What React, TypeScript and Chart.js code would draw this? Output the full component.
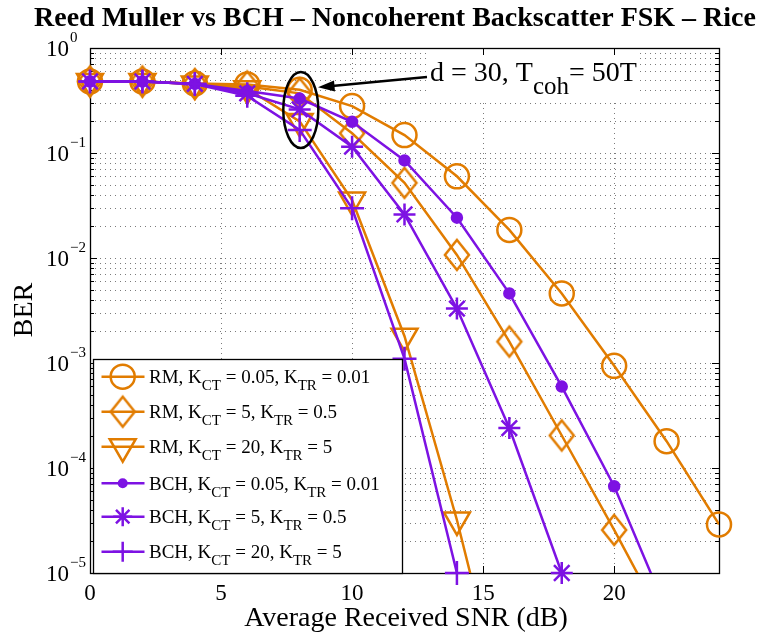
import React, { useEffect, useRef } from 'react';
import { Chart, registerables } from 'chart.js';
Chart.register(...registerables);

const FONT = "'Liberation Serif', 'Times New Roman', serif";
const ORANGE = '#E17C00';
const PURPLE = '#7D12E3';

const snr = [0, 2, 4, 6, 8, 10, 12, 14, 16, 18, 20, 22, 24];
const rmCircle = [0.48, 0.48, 0.46, 0.45, 0.40, 0.28, 0.148, 0.06, 0.0185, 0.0046, 0.00094, 0.00018, 0.000029];
const rmDiamond = [0.48, 0.48, 0.455, 0.43, 0.37, 0.154, 0.052, 0.0107, 0.0016, 0.000204, 0.0000257, 0.000003];
const rmTriangle = [0.48, 0.48, 0.455, 0.41, 0.20, 0.0356, 0.0018, 0.000032, 0.00000032];
const bchDot = [0.48, 0.48, 0.455, 0.39, 0.33, 0.198, 0.085, 0.0242, 0.0046, 0.000596, 0.000067, 0.0000044];
const bchStar = [0.48, 0.48, 0.455, 0.37, 0.26, 0.115, 0.026, 0.0033, 0.00024, 0.00001];
const bchPlus = [0.48, 0.48, 0.455, 0.35, 0.166, 0.0297, 0.0011, 0.00001];

const xTicks = [0, 5, 10, 15, 20];
const yExps = [0, -1, -2, -3, -4, -5];
const Y_MIN = 1e-5;
const Y_MAX = 1;

type Kind = 'circle' | 'diamond' | 'triDown' | 'dot' | 'star' | 'plus';
type Part = [string, number];

const seriesDefs: { name: Part[]; data: number[]; color: string; kind: Kind }[] = [
  { name: [['RM, K', 0], ['CT', 1], [' = 0.05, K', 0], ['TR', 1], [' = 0.01', 0]], data: rmCircle, color: ORANGE, kind: 'circle' },
  { name: [['RM, K', 0], ['CT', 1], [' = 5, K', 0], ['TR', 1], [' = 0.5', 0]], data: rmDiamond, color: ORANGE, kind: 'diamond' },
  { name: [['RM, K', 0], ['CT', 1], [' = 20, K', 0], ['TR', 1], [' = 5', 0]], data: rmTriangle, color: ORANGE, kind: 'triDown' },
  { name: [['BCH, K', 0], ['CT', 1], [' = 0.05, K', 0], ['TR', 1], [' = 0.01', 0]], data: bchDot, color: PURPLE, kind: 'dot' },
  { name: [['BCH, K', 0], ['CT', 1], [' = 5, K', 0], ['TR', 1], [' = 0.5', 0]], data: bchStar, color: PURPLE, kind: 'star' },
  { name: [['BCH, K', 0], ['CT', 1], [' = 20, K', 0], ['TR', 1], [' = 5', 0]], data: bchPlus, color: PURPLE, kind: 'plus' },
];

const LW = 2.5;

function diamondImage(color: string): HTMLCanvasElement {
  const c = document.createElement('canvas');
  c.width = 30; c.height = 36;
  const g = c.getContext('2d')!;
  g.strokeStyle = color; g.lineWidth = LW; g.lineJoin = 'miter';
  g.beginPath();
  g.moveTo(15, 3); g.lineTo(27, 18); g.lineTo(15, 33); g.lineTo(3, 18); g.closePath();
  g.stroke();
  return c;
}

function pointOpts(kind: Kind, color: string, diamond: HTMLCanvasElement) {
  switch (kind) {
    case 'circle': return { pointStyle: 'circle', pointRadius: 12, pointBackgroundColor: 'rgba(0,0,0,0)', pointRotation: 0 };
    case 'diamond': return { pointStyle: diamond, pointRadius: 12, pointBackgroundColor: 'rgba(0,0,0,0)', pointRotation: 0 };
    case 'triDown': return { pointStyle: 'triangle', pointRadius: 15, pointBackgroundColor: 'rgba(0,0,0,0)', pointRotation: 180 };
    case 'dot': return { pointStyle: 'circle', pointRadius: 5, pointBackgroundColor: color, pointRotation: 0 };
    case 'star': return { pointStyle: 'star', pointRadius: 11, pointBackgroundColor: color, pointRotation: 0 };
    case 'plus': return { pointStyle: 'cross', pointRadius: 12, pointBackgroundColor: color, pointRotation: 0 };
  }
}

function drawMarker(ctx: CanvasRenderingContext2D, kind: Kind, x: number, y: number, color: string, diamond: HTMLCanvasElement) {
  ctx.save();
  ctx.strokeStyle = color; ctx.fillStyle = color; ctx.lineWidth = LW; ctx.setLineDash([]);
  ctx.beginPath();
  if (kind === 'circle') { ctx.arc(x, y, 12, 0, Math.PI * 2); ctx.stroke(); }
  else if (kind === 'diamond') { ctx.drawImage(diamond, x - 15, y - 18); }
  else if (kind === 'triDown') {
    const r = 15;
    ctx.moveTo(x, y + r); ctx.lineTo(x - r * Math.sqrt(3) / 2, y - r / 2); ctx.lineTo(x + r * Math.sqrt(3) / 2, y - r / 2); ctx.closePath(); ctx.stroke();
  } else if (kind === 'dot') { ctx.arc(x, y, 5, 0, Math.PI * 2); ctx.fill(); }
  else if (kind === 'star') {
    const r = 9.5; const d = r * Math.SQRT1_2;
    ctx.moveTo(x - r, y); ctx.lineTo(x + r, y); ctx.moveTo(x, y - r); ctx.lineTo(x, y + r);
    ctx.moveTo(x - d, y - d); ctx.lineTo(x + d, y + d); ctx.moveTo(x - d, y + d); ctx.lineTo(x + d, y - d); ctx.stroke();
  } else if (kind === 'plus') {
    const r = 10;
    ctx.moveTo(x - r, y); ctx.lineTo(x + r, y); ctx.moveTo(x, y - r); ctx.lineTo(x, y + r); ctx.stroke();
  }
  ctx.restore();
}

function drawRich(ctx: CanvasRenderingContext2D, parts: Part[], x: number, y: number, size: number, subSize: number, subDy: number, bold = false) {
  let cx = x;
  ctx.textAlign = 'left';
  ctx.textBaseline = 'alphabetic';
  for (const [t, k] of parts) {
    const fs = k === 0 ? size : subSize;
    ctx.font = `${bold ? 'bold ' : ''}${fs}px ${FONT}`;
    const dy = k === 1 ? subDy : k === 2 ? -subDy : 0;
    ctx.fillText(t, cx, y + dy);
    cx += ctx.measureText(t).width;
  }
  return cx - x;
}

function yGridValues(): number[] {
  const v: number[] = [];
  for (let e = -5; e < 0; e++) for (let m = 1; m <= 9; m++) v.push(m * Math.pow(10, e));
  v.push(1);
  return v;
}

export default function App() {
  const ref = useRef<HTMLCanvasElement>(null);
  useEffect(() => {
    document.body.style.margin = '0';
    document.body.style.overflow = 'hidden';
    const canvas = ref.current!;
    const diamondO = diamondImage(ORANGE);

    const datasets: any[] = [];
    seriesDefs.forEach((s, i) => {
      const pts = s.data.map((v, j) => ({ x: snr[j], y: v }));
      datasets.push({
        label: 'line' + i,
        data: pts,
        borderColor: s.color,
        borderWidth: LW,
        pointRadius: 0,
        pointHoverRadius: 0,
        tension: 0,
        fill: false,
        order: 2 * (5 - i) + 1,
      });
      const po = pointOpts(s.kind, s.color, diamondO)!;
      datasets.push({
        label: 'mk' + i,
        data: s.data.map((v, j) => ({ x: snr[j], y: v >= Y_MIN * 0.999 ? v : null })),
        showLine: false,
        borderColor: s.color,
        pointBorderColor: s.color,
        pointBorderWidth: LW,
        pointHoverRadius: po.pointRadius,
        clip: false,
        order: 2 * (5 - i),
        ...po,
      });
    });

    const axesPlugin = {
      id: 'matlabAxes',
      beforeDatasetsDraw(chart: any) {
        const ctx: CanvasRenderingContext2D = chart.ctx;
        const a = chart.chartArea;
        const xs = chart.scales.x; const ys = chart.scales.y;
        const L = a.left, R = a.right, T = a.top, B = a.bottom;
        ctx.save();
        // grid
        ctx.strokeStyle = 'rgba(90,90,90,0.8)';
        ctx.lineWidth = 1;
        ctx.setLineDash([1, 4]);
        for (const v of yGridValues()) {
          if (v >= 1 || v <= Y_MIN) continue;
          const y = Math.round(ys.getPixelForValue(v)) + 0.5;
          ctx.beginPath(); ctx.moveTo(L, y); ctx.lineTo(R, y); ctx.stroke();
        }
        for (const t of xTicks) {
          if (t === 0) continue;
          const x = Math.round(xs.getPixelForValue(t)) + 0.5;
          ctx.beginPath(); ctx.moveTo(x, T); ctx.lineTo(x, B); ctx.stroke();
        }
        ctx.setLineDash([]);
        // white box behind annotation text
        ctx.fillStyle = '#fff';
        ctx.fillRect(428, T + 1, 210, 50);
        // frame
        ctx.strokeStyle = '#000';
        ctx.lineWidth = 1.3;
        ctx.strokeRect(Math.round(L) + 0.5, Math.round(T) + 0.5, Math.round(R - L), Math.round(B - T));
        // y ticks
        ctx.lineWidth = 1;
        for (const v of yGridValues()) {
          const y = Math.round(ys.getPixelForValue(v)) + 0.5;
          const m = Math.abs(Math.log10(v) - Math.round(Math.log10(v))) < 1e-9;
          const len = m ? 7 : 4;
          ctx.beginPath(); ctx.moveTo(L, y); ctx.lineTo(L + len, y); ctx.moveTo(R, y); ctx.lineTo(R - len, y); ctx.stroke();
        }
        for (const t of xTicks) {
          const x = Math.round(xs.getPixelForValue(t)) + 0.5;
          ctx.beginPath(); ctx.moveTo(x, B); ctx.lineTo(x, B - 7); ctx.moveTo(x, T); ctx.lineTo(x, T + 7); ctx.stroke();
        }
        // tick labels
        ctx.fillStyle = '#000';
        ctx.font = `23px ${FONT}`;
        ctx.textAlign = 'center';
        ctx.textBaseline = 'alphabetic';
        for (const t of xTicks) {
          ctx.fillText(String(t), xs.getPixelForValue(t), B + 27);
        }
        for (const e of yExps) {
          const y = ys.getPixelForValue(Math.pow(10, e));
          ctx.font = `23px ${FONT}`;
          ctx.textAlign = 'right';
          ctx.fillText('10', 69, y + 8);
          ctx.font = `15px ${FONT}`;
          ctx.textAlign = 'left';
          ctx.fillText(e === 0 ? '0' : '\u2212' + String(-e), 70, y - 6);
        }
        // title
        ctx.font = `bold 28px ${FONT}`;
        ctx.textAlign = 'center';
        ctx.fillText('Reed Muller vs BCH \u2013 Noncoherent Backscatter FSK \u2013 Rice', 395, 26);
        // x label
        ctx.font = `28px ${FONT}`;
        ctx.fillText('Average Received SNR (dB)', 406, 626);
        // y label
        ctx.save();
        ctx.translate(32, 310);
        ctx.rotate(-Math.PI / 2);
        ctx.font = `28px ${FONT}`;
        ctx.textAlign = 'center';
        ctx.fillText('BER', 0, 0);
        ctx.restore();
        ctx.restore();
      },
      afterDatasetsDraw(chart: any) {
        const ctx: CanvasRenderingContext2D = chart.ctx;
        ctx.save();
        // ellipse
        ctx.strokeStyle = '#000';
        ctx.lineWidth = 2.5;
        ctx.beginPath();
        ctx.ellipse(300.8, 110, 17.5, 38, 0, 0, Math.PI * 2);
        ctx.stroke();
        // arrow
        ctx.beginPath();
        ctx.moveTo(427, 77); ctx.lineTo(332, 86); ctx.stroke();
        ctx.fillStyle = '#000';
        ctx.beginPath();
        ctx.moveTo(318, 87.3); ctx.lineTo(334, 80.5); ctx.lineTo(335, 91.5); ctx.closePath(); ctx.fill();
        // annotation text
        ctx.fillStyle = '#000';
        drawRich(ctx, [['d = 30, T', 0], ['coh', 1], ['= 50T', 0]], 430, 81, 28, 25, 13);
        // legend
        const lx = 93, ly = 359, lw = 309, lh = 214;
        ctx.fillStyle = '#fff';
        ctx.fillRect(lx, ly, lw, lh);
        ctx.strokeStyle = '#000';
        ctx.lineWidth = 1.3;
        ctx.strokeRect(lx + 0.5, ly + 0.5, lw, lh);
        const rows = [376.7, 411.7, 446.7, 483.3, 516.7, 551.7];
        seriesDefs.forEach((s, i) => {
          const y = rows[i];
          ctx.strokeStyle = s.color; ctx.lineWidth = LW;
          ctx.beginPath(); ctx.moveTo(101.5, y); ctx.lineTo(144.5, y); ctx.stroke();
          drawMarker(ctx, s.kind, 122.7, y, s.color, diamondO);
          ctx.fillStyle = '#000';
          drawRich(ctx, s.name, 149, y + 6.5, 19, 15, 7);
        });
        ctx.restore();
      },
    };

    const chart = new Chart(canvas, {
      type: 'line',
      data: { datasets },
      options: {
        animation: false,
        responsive: false,
        devicePixelRatio: 1,
        events: [],
        layout: { padding: { top: 48, right: 43, left: 0, bottom: 0 } },
        plugins: { legend: { display: false }, tooltip: { enabled: false }, title: { display: false } },
        scales: {
          x: {
            type: 'linear', min: 0, max: 24,
            ticks: { display: false }, grid: { display: false }, border: { display: false },
            afterFit: (s: any) => { s.height = 59; },
          },
          y: {
            type: 'logarithmic', min: Y_MIN, max: Y_MAX,
            ticks: { display: false }, grid: { display: false }, border: { display: false },
            afterFit: (s: any) => { s.width = 90; },
          },
        },
      },
      plugins: [axesPlugin],
    } as any);
    return () => chart.destroy();
  }, []);
  return <canvas ref={ref} width={762} height={632} style={{ display: 'block' }} />;
}
